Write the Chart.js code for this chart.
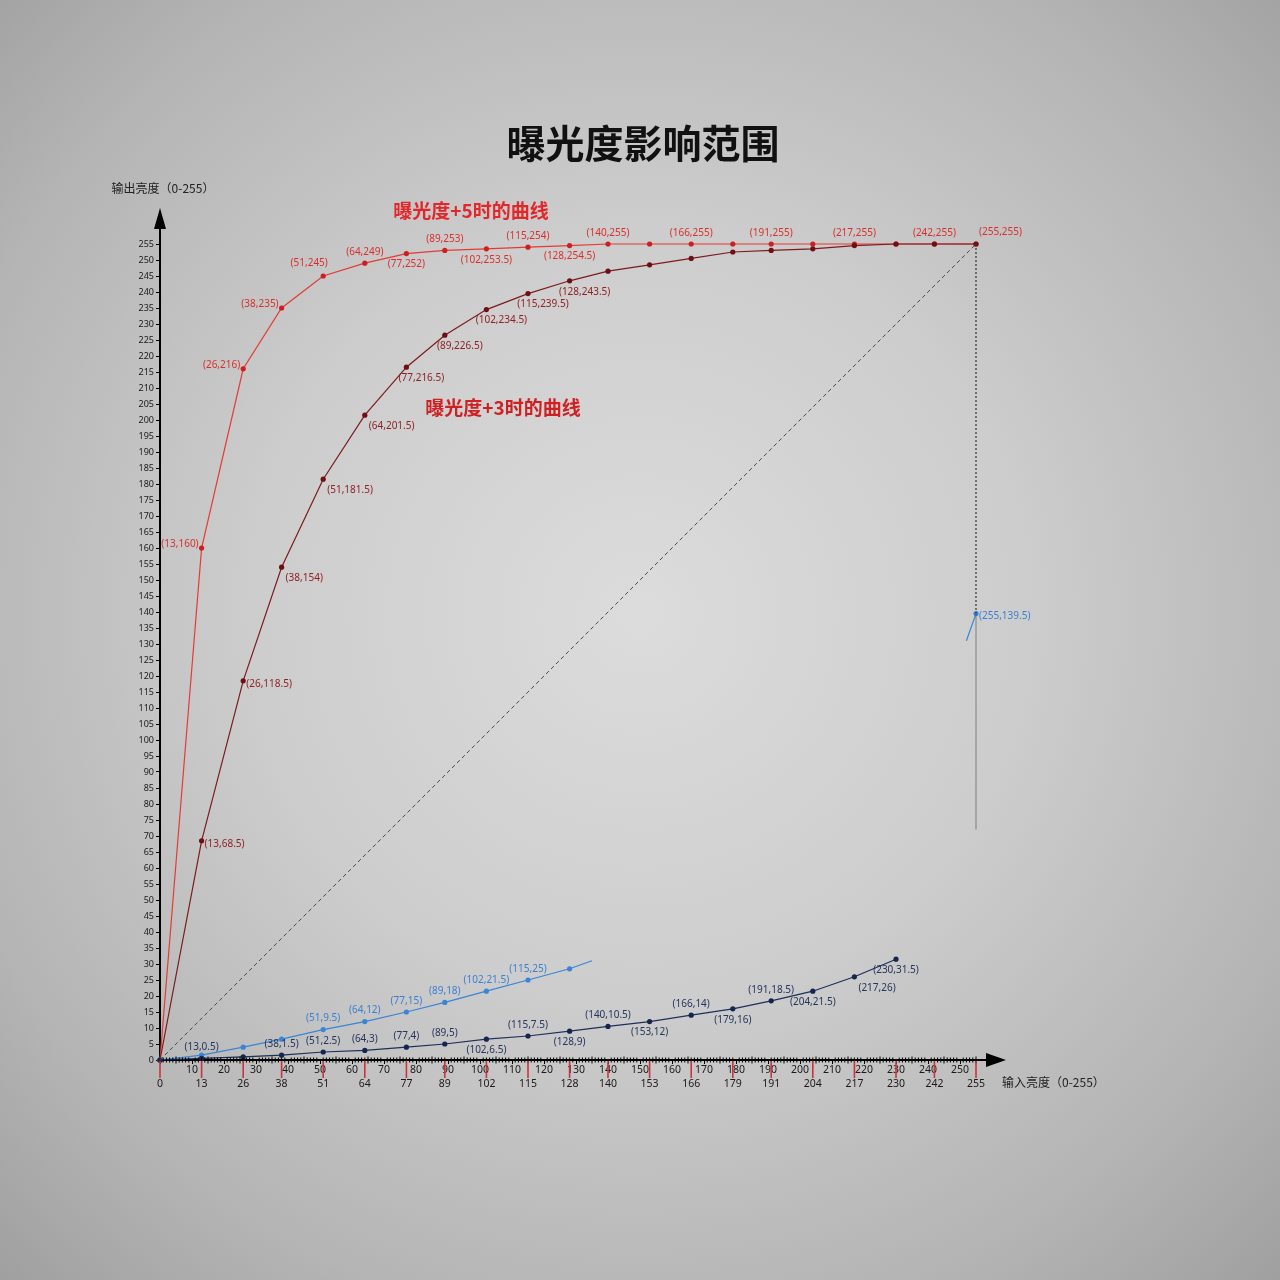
<!DOCTYPE html>
<html>
<head>
<meta charset="utf-8">
<script src="https://cdn.jsdelivr.net/npm/chart.js@4.4.1/dist/chart.umd.min.js"></script>
<style>
  html, body { margin: 0; padding: 0; }
  body {
    width: 1280px; height: 1280px; overflow: hidden;
    background: radial-gradient(ellipse 75% 75% at 50% 48%, #dcdcdc 0%, #cdcdcd 40%, #b4b4b4 75%, #9c9c9c 100%);
  }
  canvas { display: block; }
</style>
</head>
<body>
<canvas id="exposure-chart" width="1280" height="1280" style="width:1280px;height:1280px"></canvas>
<script>
// input brightness samples (x) shared by the curves
const inputX = [0, 13, 26, 38, 51, 64, 77, 89, 102, 115, 128, 140, 153, 166, 179, 191, 204, 217, 230, 242, 255];

// exposure +5 / +3 curves
const plus5 = [0, 160, 216, 235, 245, 249, 252, 253, 253.5, 254, 254.5, 255, 255, 255, 255, 255, 255, 255, 255, 255, 255];
const plus3 = [0, 68.5, 118.5, 154, 181.5, 201.5, 216.5, 226.5, 234.5, 239.5, 243.5, 246.5, 248.5, 250.5, 252.5, 253, 253.5, 254.5, 255, 255, 255];

// lower curves (blue and navy)
const blueX = [0, 13, 26, 38, 51, 64, 77, 89, 102, 115, 128, 135];
const blueY = [0, 1.5, 4, 6.5, 9.5, 12, 15, 18, 21.5, 25, 28.5, 31];
const blueEndX = [252, 255];
const blueEndY = [131, 139.5];
const navyX = [0, 13, 26, 38, 51, 64, 77, 89, 102, 115, 128, 140, 153, 166, 179, 191, 204, 217, 230];
const navyY = [0, 0.5, 1, 1.5, 2.5, 3, 4, 5, 6.5, 7.5, 9, 10.5, 12, 14, 16, 18.5, 21.5, 26, 31.5];

// reference lines
const diagX = [0, 255];
const diagY = [0, 255];
const dropX = [255, 255];
const dropY = [255, 139.5];
const fadeX = [255, 255];
const fadeY = [139.5, 72];

// where each point's "(x,y)" label sits ('' = no label)
const plus5Place = ['', 'l', 'l', 'l', 'al', 'a', 'b', 'a', 'b', 'a', 'b', 'a', '', 'a', '', 'a', '', 'a', '', 'a', 'ar'];
const plus3Place = ['', 'r', 'r', 'br', 'br', 'br', 'bs', 'bs', 'bs', 'bs', 'bs', '', '', '', '', '', '', '', '', '', ''];
const bluePlace = ['', '', '', '', 'a', 'a', 'a', 'a', 'a', 'a', '', ''];
const blueEndPlace = ['', 'r'];
const navyPlace = ['', 'a', '', 'a', 'a', 'a', 'a', 'a', 'b', 'a', 'b', 'a', 'b', 'a', 'b', 'a', 'b', 'br', 'b'];

const pts = (xs, ys) => xs.map((x, i) => ({ x: x, y: ys[i] }));

const labelFont = "10px 'Liberation Sans Narrow', 'Noto Sans', sans-serif";
const cjk = "'Noto Sans CJK SC', 'Noto Sans', sans-serif";

const extras = {
    id: 'extras',
    afterDraw(chart) {
        const c = chart.ctx;
        const xs = chart.scales.x;
        const ys = chart.scales.y;
        const x0 = xs.getPixelForValue(0);
        const y0 = ys.getPixelForValue(0);
        const top = ys.getPixelForValue(255);
        const right = xs.getPixelForValue(255);

        c.save();
        // axis extensions with arrow heads
        c.strokeStyle = '#000';
        c.fillStyle = '#000';
        c.lineWidth = 2;
        c.beginPath();
        c.moveTo(x0, top); c.lineTo(x0, top - 20);
        c.moveTo(right, y0); c.lineTo(right + 14, y0);
        c.stroke();
        c.beginPath();
        c.moveTo(x0, top - 36); c.lineTo(x0 - 6, top - 15); c.lineTo(x0 + 6, top - 15); c.closePath();
        c.fill();
        c.beginPath();
        c.moveTo(right + 30, y0); c.lineTo(right + 10, y0 - 7); c.lineTo(right + 10, y0 + 7); c.closePath();
        c.fill();

        // minor ticks on x axis
        c.lineWidth = 1;
        for (let v = 1; v <= 255; v++) {
            if (v % 10 === 0) continue;
            const px = xs.getPixelForValue(v);
            const h = v % 5 === 0 ? 3.5 : 2.5;
            c.beginPath();
            c.moveTo(px, y0 - h); c.lineTo(px, y0 + h);
            c.stroke();
        }

        // red marks at sample inputs with second row of labels
        c.strokeStyle = '#c8363a';
        c.lineWidth = 1.6;
        c.fillStyle = '#1a1a1a';
        c.font = "10.5px 'Noto Sans', sans-serif";
        c.textAlign = 'center';
        c.textBaseline = 'middle';
        inputX.forEach(v => {
            const px = xs.getPixelForValue(v);
            c.beginPath();
            c.moveTo(px, y0 + 1); c.lineTo(px, y0 + 18);
            c.stroke();
            c.fillText(String(v), px, y0 + 24);
        });

        // point labels
        const groups = [
            { ds: 7, place: plus5Place, color: '#d8302e' },
            { ds: 6, place: plus3Place, color: '#8e2124' },
            { ds: 4, place: bluePlace, color: '#3d7fd0' },
            { ds: 5, place: blueEndPlace, color: '#3d7fd0' },
            { ds: 3, place: navyPlace, color: '#26355c' }
        ];
        c.font = labelFont;
        groups.forEach(g => {
            const meta = chart.getDatasetMeta(g.ds);
            const data = chart.data.datasets[g.ds].data;
            c.fillStyle = g.color;
            meta.data.forEach((el, i) => {
                const p = g.place[i];
                if (!p) return;
                const t = '(' + data[i].x + ',' + data[i].y + ')';
                let dx = 0, dy = 0, align = 'center';
                if (p === 'a') { dy = -11; }
                else if (p === 'b') { dy = 11; }
                else if (p === 'l') { dx = -3; dy = -4; align = 'right'; }
                else if (p === 'r') { dx = 3; dy = 3; align = 'left'; }
                else if (p === 'al') { dx = -14; dy = -13; }
                else if (p === 'ar') { dx = 3; dy = -12; align = 'left'; }
                else if (p === 'br') { dx = 4; dy = 11; align = 'left'; }
                else if (p === 'bs') { dx = 15; dy = 11; }
                c.textAlign = align;
                c.fillText(t, el.x + dx, el.y + dy);
            });
        });

        // titles and axis names
        c.textAlign = 'center';
        c.fillStyle = '#111';
        c.font = 'bold 39px ' + cjk;
        c.fillText('曝光度影响范围', 643, 143);
        c.font = '12px ' + cjk;
        c.fillStyle = '#222';
        c.fillText('输出亮度（0-255）', 163, 188);
        c.textAlign = 'left';
        c.fillText('输入亮度（0-255）', 1002, 1082);
        c.textAlign = 'center';
        c.font = 'bold 19px ' + cjk;
        c.fillStyle = '#e3262a';
        c.fillText('曝光度+5时的曲线', 471, 211);
        c.fillStyle = '#cf2024';
        c.fillText('曝光度+3时的曲线', 503, 408);
        c.restore();
    }
};

const line = (data, color, extra) => Object.assign({
    data: data,
    borderColor: color,
    backgroundColor: color,
    borderWidth: 1.2,
    pointRadius: 2.6,
    pointBorderWidth: 0,
    tension: 0,
    clip: false
}, extra || {});

new Chart('exposure-chart', {
    type: 'line',
    data: {
        datasets: [
            line(pts(diagX, diagY), '#4a4a4a', { borderDash: [4, 3], borderWidth: 1, pointRadius: 0 }),
            line(pts(dropX, dropY), '#333', { borderDash: [2, 2], borderWidth: 1.2, pointRadius: 0 }),
            line(pts(fadeX, fadeY), 'rgba(70,70,70,0.4)', { borderWidth: 1.5, pointRadius: 0 }),
            line(pts(navyX, navyY), '#1e2f5a', { pointBackgroundColor: '#15254d' }),
            line(pts(blueX, blueY), '#3b84d6', { pointRadius: ctx => (ctx.raw && inputX.includes(ctx.raw.x)) ? 2.6 : 0 }),
            line(pts(blueEndX, blueEndY), '#3b84d6', { pointRadius: ctx => ctx.dataIndex === 1 ? 2.6 : 0 }),
            line(pts(inputX, plus3), '#7e1a1e', { pointBackgroundColor: '#6e0f14' }),
            line(pts(inputX, plus5), '#e53a35', { pointBackgroundColor: '#cc1f22' })
        ]
    },
    options: {
        responsive: false,
        animation: false,
        layout: { padding: { left: 110, right: 304, top: 244, bottom: 180 } },
        plugins: {
            legend: { display: false },
            tooltip: { enabled: false }
        },
        scales: {
            x: {
                type: 'linear',
                min: 0,
                max: 255,
                afterFit: s => { s.height = 40; },
                border: { color: '#000', width: 2 },
                grid: { drawOnChartArea: false, color: '#000', tickLength: 4 },
                ticks: {
                    stepSize: 10,
                    includeBounds: false,
                    autoSkip: false,
                    maxRotation: 0,
                    padding: 0,
                    color: '#1a1a1a',
                    font: { family: 'Noto Sans', size: 10.5 },
                    callback: v => v === 0 ? '' : v
                }
            },
            y: {
                type: 'linear',
                min: 0,
                max: 255,
                afterFit: s => { s.width = 50; },
                border: { color: '#000', width: 2 },
                grid: { drawOnChartArea: false, color: '#000', tickLength: 4 },
                ticks: {
                    stepSize: 5,
                    autoSkip: false,
                    padding: 2,
                    color: '#1a1a1a',
                    font: { family: 'Noto Sans', size: 9 }
                }
            }
        }
    },
    plugins: [extras]
});
</script>
</body>
</html>
